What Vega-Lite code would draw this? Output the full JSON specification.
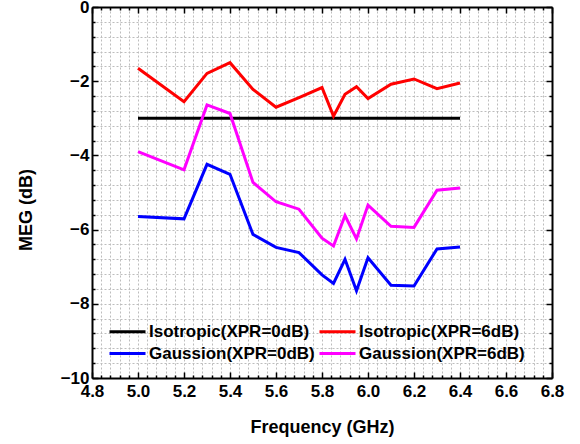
{
  "$schema": "https://vega.github.io/schema/vega-lite/v6.json",
  "width": 460,
  "height": 371,
  "autosize": "none",
  "padding": {"left": 92, "top": 7, "right": 28, "bottom": 66},
  "background": "white",
  "title": {
    "text": "MEG (dB)",
    "orient": "left",
    "anchor": "middle",
    "frame": "group",
    "offset": 24,
    "dx": -17.5,
    "font": "Liberation Sans",
    "fontSize": 18,
    "fontWeight": "bold",
    "color": "black"
  },
  "config": {
    "view": {"stroke": null},
    "font": "Liberation Sans",
    "axis": {
      "domainColor": "black",
      "domainWidth": 2,
      "tickColor": "black",
      "tickWidth": 1.5,
      "gridColor": "#bdbdbd",
      "gridDash": [2, 2],
      "gridWidth": 1,
      "labelFont": "Liberation Sans",
      "labelFontWeight": "bold",
      "labelFontSize": 17,
      "labelColor": "black",
      "titleFont": "Liberation Sans",
      "titleFontWeight": "bold",
      "titleFontSize": 18,
      "titleColor": "black",
      "labelOverlap": false,
      "labelFlush": false
    }
  },
  "data": {
    "values": [
      {"s": "Isotropic(XPR=0dB)", "f": 5.0, "v": -3},
      {"s": "Isotropic(XPR=0dB)", "f": 5.2, "v": -3},
      {"s": "Isotropic(XPR=0dB)", "f": 5.4, "v": -3},
      {"s": "Isotropic(XPR=0dB)", "f": 5.6, "v": -3},
      {"s": "Isotropic(XPR=0dB)", "f": 5.8, "v": -3},
      {"s": "Isotropic(XPR=0dB)", "f": 6.0, "v": -3},
      {"s": "Isotropic(XPR=0dB)", "f": 6.2, "v": -3},
      {"s": "Isotropic(XPR=0dB)", "f": 6.4, "v": -3},
      {"s": "Isotropic(XPR=6dB)", "f": 5.0, "v": -1.65},
      {"s": "Isotropic(XPR=6dB)", "f": 5.2, "v": -2.55},
      {"s": "Isotropic(XPR=6dB)", "f": 5.3, "v": -1.79},
      {"s": "Isotropic(XPR=6dB)", "f": 5.4, "v": -1.5},
      {"s": "Isotropic(XPR=6dB)", "f": 5.5, "v": -2.22},
      {"s": "Isotropic(XPR=6dB)", "f": 5.6, "v": -2.7},
      {"s": "Isotropic(XPR=6dB)", "f": 5.7, "v": -2.44},
      {"s": "Isotropic(XPR=6dB)", "f": 5.8, "v": -2.17},
      {"s": "Isotropic(XPR=6dB)", "f": 5.85, "v": -2.94},
      {"s": "Isotropic(XPR=6dB)", "f": 5.9, "v": -2.35},
      {"s": "Isotropic(XPR=6dB)", "f": 5.95, "v": -2.15},
      {"s": "Isotropic(XPR=6dB)", "f": 6.0, "v": -2.47},
      {"s": "Isotropic(XPR=6dB)", "f": 6.1, "v": -2.08},
      {"s": "Isotropic(XPR=6dB)", "f": 6.2, "v": -1.94},
      {"s": "Isotropic(XPR=6dB)", "f": 6.3, "v": -2.2},
      {"s": "Isotropic(XPR=6dB)", "f": 6.4, "v": -2.05},
      {"s": "Gaussion(XPR=0dB)", "f": 5.0, "v": -5.65},
      {"s": "Gaussion(XPR=0dB)", "f": 5.2, "v": -5.71},
      {"s": "Gaussion(XPR=0dB)", "f": 5.3, "v": -4.24},
      {"s": "Gaussion(XPR=0dB)", "f": 5.4, "v": -4.51},
      {"s": "Gaussion(XPR=0dB)", "f": 5.5, "v": -6.13},
      {"s": "Gaussion(XPR=0dB)", "f": 5.6, "v": -6.48},
      {"s": "Gaussion(XPR=0dB)", "f": 5.7, "v": -6.62},
      {"s": "Gaussion(XPR=0dB)", "f": 5.8, "v": -7.22},
      {"s": "Gaussion(XPR=0dB)", "f": 5.85, "v": -7.45},
      {"s": "Gaussion(XPR=0dB)", "f": 5.9, "v": -6.8},
      {"s": "Gaussion(XPR=0dB)", "f": 5.95, "v": -7.65},
      {"s": "Gaussion(XPR=0dB)", "f": 6.0, "v": -6.76},
      {"s": "Gaussion(XPR=0dB)", "f": 6.1, "v": -7.5},
      {"s": "Gaussion(XPR=0dB)", "f": 6.2, "v": -7.52},
      {"s": "Gaussion(XPR=0dB)", "f": 6.3, "v": -6.52},
      {"s": "Gaussion(XPR=0dB)", "f": 6.4, "v": -6.47},
      {"s": "Gaussion(XPR=6dB)", "f": 5.0, "v": -3.9},
      {"s": "Gaussion(XPR=6dB)", "f": 5.2, "v": -4.39},
      {"s": "Gaussion(XPR=6dB)", "f": 5.3, "v": -2.64},
      {"s": "Gaussion(XPR=6dB)", "f": 5.4, "v": -2.87},
      {"s": "Gaussion(XPR=6dB)", "f": 5.5, "v": -4.73},
      {"s": "Gaussion(XPR=6dB)", "f": 5.6, "v": -5.25},
      {"s": "Gaussion(XPR=6dB)", "f": 5.7, "v": -5.45},
      {"s": "Gaussion(XPR=6dB)", "f": 5.8, "v": -6.23},
      {"s": "Gaussion(XPR=6dB)", "f": 5.85, "v": -6.44},
      {"s": "Gaussion(XPR=6dB)", "f": 5.9, "v": -5.62},
      {"s": "Gaussion(XPR=6dB)", "f": 5.95, "v": -6.25},
      {"s": "Gaussion(XPR=6dB)", "f": 6.0, "v": -5.34},
      {"s": "Gaussion(XPR=6dB)", "f": 6.1, "v": -5.91},
      {"s": "Gaussion(XPR=6dB)", "f": 6.2, "v": -5.94},
      {"s": "Gaussion(XPR=6dB)", "f": 6.3, "v": -4.94},
      {"s": "Gaussion(XPR=6dB)", "f": 6.4, "v": -4.88}
    ]
  },
  "resolve": {"axis": {"x": "independent", "y": "independent"}},
  "layer": [
    {
      "mark": {"type": "line", "strokeWidth": 3, "clip": true},
      "encoding": {
        "x": {
          "field": "f", "type": "quantitative",
          "scale": {"domain": [4.8, 6.8], "nice": false, "zero": false},
          "axis": {
            "orient": "bottom",
            "title": "Frequency (GHz)",
            "titlePadding": 16,
            "values": [4.8,4.84,4.88,4.92,4.96,5.0,5.04,5.08,5.12,5.16,5.2,5.24,5.28,5.32,5.36,5.4,5.44,5.48,5.52,5.56,5.6,5.64,5.68,5.72,5.76,5.8,5.84,5.88,5.92,5.96,6.0,6.04,6.08,6.12,6.16,6.2,6.24,6.28,6.32,6.36,6.4,6.44,6.48,6.52,6.56,6.6,6.64,6.68,6.72,6.76,6.8],
            "labelExpr": "abs(datum.value*5 - round(datum.value*5)) < 0.01 ? format(datum.value, '.1f') : ''",
            "tickSize": {"condition": {"test": "abs(datum.value*5 - round(datum.value*5)) < 0.01", "value": -6}, "value": -3},
            "labelPadding": 11,
            "grid": true
          }
        },
        "y": {
          "field": "v", "type": "quantitative",
          "scale": {"domain": [-10, 0], "nice": false, "zero": false},
          "axis": {
            "orient": "left",
            "title": null,
            "values": [-10,-9.6,-9.2,-8.8,-8.4,-8,-7.6,-7.2,-6.8,-6.4,-6,-5.6,-5.2,-4.8,-4.4,-4,-3.6,-3.2,-2.8,-2.4,-2,-1.6,-1.2,-0.8,-0.4,0],
            "labelExpr": "abs(datum.value/2 - round(datum.value/2)) < 0.01 ? format(datum.value, 'd') : ''",
            "tickSize": {"condition": {"test": "abs(datum.value/2 - round(datum.value/2)) < 0.01", "value": -6}, "value": -3},
            "labelPadding": 9,
            "grid": true
          }
        },
        "color": {
          "field": "s", "type": "nominal",
          "scale": {
            "domain": ["Isotropic(XPR=0dB)", "Isotropic(XPR=6dB)", "Gaussion(XPR=0dB)", "Gaussion(XPR=6dB)"],
            "range": ["#000000", "#ff0000", "#0000ff", "#ff00ff"]
          },
          "legend": {
            "title": null,
            "orient": "none",
            "direction": "horizontal",
            "legendX": 27,
            "legendY": 316,
            "columns": 2,
            "symbolType": "M-3,0H3",
            "symbolSize": 144,
            "symbolStrokeWidth": 3,
            "labelOffset": 13,
            "labelFont": "Liberation Sans",
            "labelFontWeight": "bold",
            "labelFontSize": 17,
            "labelColor": "black",
            "columnPadding": -2,
            "rowPadding": 4,
            "labelLimit": 300
          }
        }
      }
    },
    {
      "mark": {"type": "line", "strokeOpacity": 0, "clip": true},
      "encoding": {
        "x": {
          "field": "f", "type": "quantitative",
          "axis": {
            "orient": "top",
            "title": null,
            "labels": false,
            "grid": false,
            "values": [4.8,4.84,4.88,4.92,4.96,5.0,5.04,5.08,5.12,5.16,5.2,5.24,5.28,5.32,5.36,5.4,5.44,5.48,5.52,5.56,5.6,5.64,5.68,5.72,5.76,5.8,5.84,5.88,5.92,5.96,6.0,6.04,6.08,6.12,6.16,6.2,6.24,6.28,6.32,6.36,6.4,6.44,6.48,6.52,6.56,6.6,6.64,6.68,6.72,6.76,6.8],
            "tickSize": {"condition": {"test": "abs(datum.value*5 - round(datum.value*5)) < 0.01", "value": -6}, "value": -3}
          }
        },
        "y": {
          "field": "v", "type": "quantitative",
          "axis": {
            "orient": "right",
            "title": null,
            "labels": false,
            "grid": false,
            "values": [-10,-9.6,-9.2,-8.8,-8.4,-8,-7.6,-7.2,-6.8,-6.4,-6,-5.6,-5.2,-4.8,-4.4,-4,-3.6,-3.2,-2.8,-2.4,-2,-1.6,-1.2,-0.8,-0.4,0],
            "tickSize": {"condition": {"test": "abs(datum.value/2 - round(datum.value/2)) < 0.01", "value": -6}, "value": -3}
          }
        },
        "detail": {"field": "s", "type": "nominal"}
      }
    }
  ]
}
